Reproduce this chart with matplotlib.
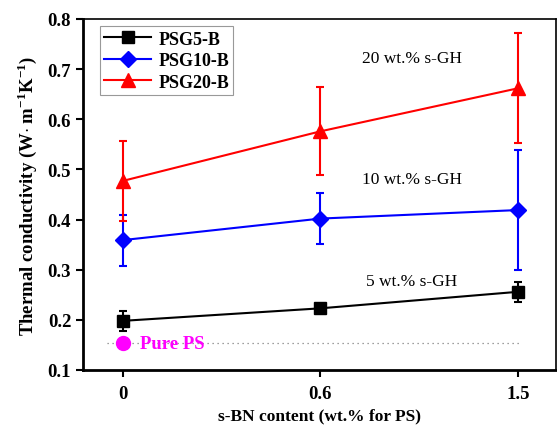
import matplotlib
matplotlib.use("Agg")
import matplotlib.pyplot as plt
from matplotlib.lines import Line2D
import numpy as np

plt.rcParams['font.family'] = ['Liberation Serif', 'DejaVu Serif']
plt.rcParams['mathtext.fontset'] = 'custom'
plt.rcParams['mathtext.rm'] = 'Liberation Serif'
plt.rcParams['mathtext.bf'] = 'Liberation Serif:bold'

categories = ['0', '0.6', '1.5']
psg5 = [0.198, 0.223, 0.256]
psg5_err = [0.02, 0.004, 0.02]
psg10 = [0.359, 0.402, 0.419]
psg10_err = [0.051, 0.051, 0.12]
psg20 = [0.477, 0.576, 0.662]
psg20_err = [0.08, 0.088, 0.11]
pure_ps = 0.153
series_labels = ['PSG5-B', 'PSG10-B', 'PSG20-B']
annotations = ['20 wt.% s-GH', '10 wt.% s-GH', '5 wt.% s-GH']
annot_y = [0.722, 0.48, 0.278]

fig = plt.figure(figsize=(5.57, 4.31), dpi=100)
ax = fig.add_axes([83/557, 1 - 371/431, (556-83)/557, (371-20)/431])
x = np.arange(len(categories))

ax.axhline(pure_ps, xmin=0.05, xmax=0.925, color='gray', ls=(0, (1, 3)), lw=0.9, zorder=1)
ax.plot([0], [pure_ps], 'o', color='magenta', ms=10, zorder=3)
ax.text(0.09, pure_ps, 'Pure PS', color='magenta', fontweight='bold', fontsize=13.5, va='center', ha='left')

styles = [('black', 's', psg5, psg5_err, 8),
          ('blue', 'D', psg10, psg10_err, 8),
          ('red', '^', psg20, psg20_err, 10)]
handles = []
for (c, m, y, e, ms), lab in zip(styles, series_labels):
    ax.errorbar(x, y, yerr=e, color=c, marker=m, ms=ms, lw=1.5, elinewidth=1.5,
                capsize=3, capthick=1.5, zorder=4)
    handles.append(Line2D([], [], color=c, marker=m, ms=ms, lw=1.5, label=lab))

for t, yy in zip(annotations, annot_y):
    ax.text(1.46, yy, t, ha='center', va='center', fontsize=12.5)

ax.set_xlim(-0.2, 2.19)
ax.set_ylim(0.1, 0.8)
ax.set_xticks(x)
ax.set_xticklabels(categories)
ax.set_yticks([0.1, 0.2, 0.3, 0.4, 0.5, 0.6, 0.7, 0.8])
for lbl in ax.get_xticklabels() + ax.get_yticklabels():
    lbl.set_fontweight('bold')
    lbl.set_fontsize(13.5)
ax.tick_params(direction='out', length=5, width=1.5)
ax.tick_params(axis='x', pad=6)
for s in ['left', 'bottom']:
    ax.spines[s].set_linewidth(2)
for s in ['top', 'right']:
    ax.spines[s].set_linewidth(1.2)

ax.set_xlabel('s-BN content (wt.% for PS)', fontweight='bold', fontsize=12.5, labelpad=4)
ax.set_ylabel(r'Thermal conductivity (W$\cdot$ m$^{\mathbf{-1}}$K$^{\mathbf{-1}}$)', fontweight='bold', fontsize=13.5, labelpad=6)

leg = ax.legend(handles=handles, loc='upper left', bbox_to_anchor=(0.035, 0.98), frameon=True, fancybox=False,
                edgecolor='gray', prop={'weight': 'bold', 'size': 13}, handlelength=2.6,
                borderpad=0.25, labelspacing=0.25, handletextpad=0.4, borderaxespad=0)
leg.get_frame().set_linewidth(0.8)

fig.savefig('out.png', dpi=100)
